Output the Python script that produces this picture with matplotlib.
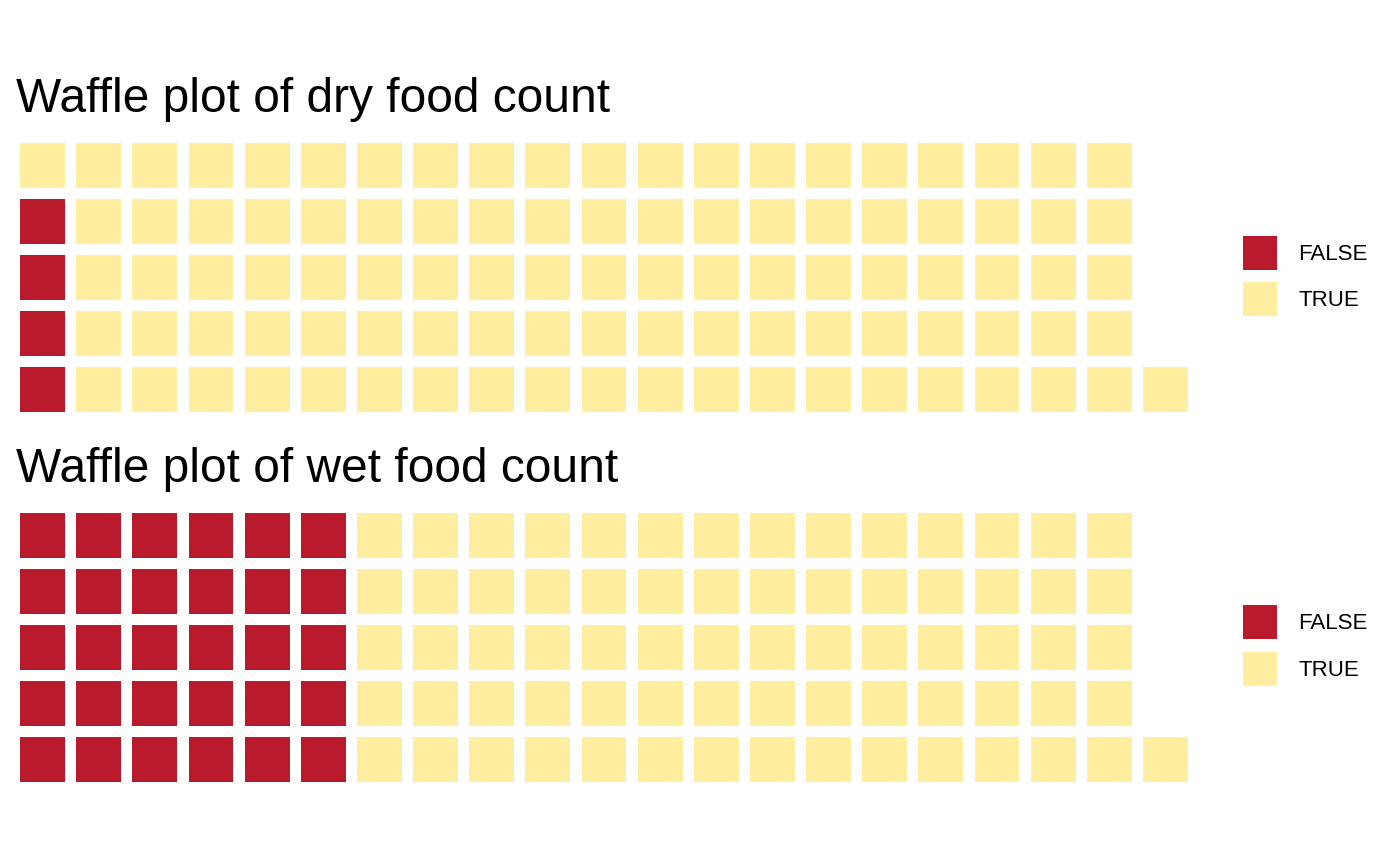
import matplotlib
matplotlib.use("Agg")
import matplotlib.pyplot as plt
from matplotlib.patches import Patch

plt.rcParams['font.family'] = ['Liberation Sans', 'DejaVu Sans']

categories = ["FALSE", "TRUE"]
dry_counts = [4, 97]
wet_counts = [30, 71]
titles = ["Waffle plot of dry food count", "Waffle plot of wet food count"]
colors = {"FALSE": "#B91A2B", "TRUE": "#FFEDA0"}
n_rows = 5

W, H = 1400, 865
fig = plt.figure(figsize=(W / 100, H / 100), dpi=100)


def waffle_cells(counts):
    cells = []
    idx = 0
    for cat, n in zip(categories, counts):
        for _ in range(n):
            col = idx // n_rows + 1
            row = idx % n_rows + 1
            cells.append((col, row, cat))
            idx += 1
    return cells


panels = [
    dict(counts=dry_counts, title=titles[0], grid_top=137.5, title_base=111.7, leg_top=235.5),
    dict(counts=wet_counts, title=titles[1], grid_top=507.5, title_base=481.7, leg_top=605.0),
]

for p in panels:
    cells = waffle_cells(p["counts"])
    ncols = max(c[0] for c in cells)
    left, right = 14.5, 1193.5
    top = p["grid_top"]
    bottom = top + 280
    ax = fig.add_axes([left / W, 1 - bottom / H, (right - left) / W, (bottom - top) / H])
    for cat in categories:
        xs = [c[0] for c in cells if c[2] == cat]
        ys = [c[1] for c in cells if c[2] == cat]
        ax.bar(xs, [0.8] * len(xs), bottom=[y - 0.4 for y in ys], width=0.8,
               color=colors[cat], linewidth=0)
    ax.set_xlim(0.5, ncols + 0.5)
    ax.set_ylim(0.5, n_rows + 0.5)
    ax.axis("off")

    fig.text(16 / W, 1 - p["title_base"] / H, p["title"], fontsize=34.5,
             ha="left", va="baseline")

    handles = [Patch(facecolor=colors[c], edgecolor="none") for c in categories]
    fig.legend(handles, categories, loc="upper left",
               bbox_to_anchor=(1242.7 / W, 1 - p["leg_top"] / H),
               frameon=False, fontsize=16, borderpad=0, borderaxespad=0,
               handlelength=1.56, handleheight=2.0, labelspacing=0.55,
               handletextpad=0.95)

fig.savefig("out.png", dpi=100, facecolor="white")
